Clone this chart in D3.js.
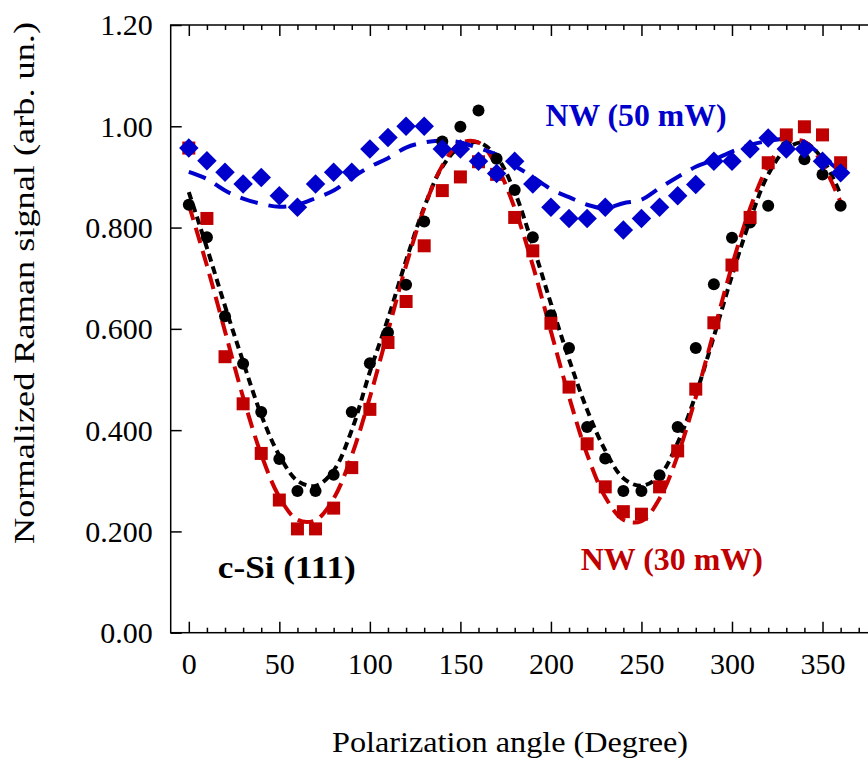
<!DOCTYPE html>
<html><head><meta charset="utf-8">
<script src="https://cdn.jsdelivr.net/npm/d3@7/dist/d3.min.js"></script>
<style>body{margin:0;background:#fff}svg{display:block}</style>
</head><body><svg id="c" width="868" height="761"></svg>
<script>
// ---- data ----
const angles = [0,10,20,30,40,50,60,70,80,90,100,110,120,130,140,150,160,170,180,190,200,210,220,230,240,250,260,270,280,290,300,310,320,330,340,350,360];
const cSi  = [0.845,0.781,0.625,0.531,0.436,0.343,0.280,0.280,0.312,0.436,0.532,0.593,0.687,0.812,0.970,0.999,1.031,0.936,0.874,0.781,0.627,0.562,0.406,0.344,0.280,0.280,0.311,0.406,0.562,0.688,0.780,0.810,0.843,0.960,0.935,0.905,0.843];
const nw30 = [0.957,0.818,0.545,0.452,0.354,0.262,0.205,0.205,0.246,0.326,0.441,0.573,0.654,0.764,0.873,0.900,0.930,0.905,0.820,0.754,0.611,0.485,0.373,0.288,0.239,0.234,0.288,0.359,0.481,0.612,0.726,0.820,0.928,0.983,0.999,0.983,0.928];
const nw50 = [0.957,0.932,0.909,0.886,0.899,0.863,0.840,0.886,0.909,0.909,0.955,0.978,1.000,1.000,0.955,0.955,0.931,0.907,0.931,0.886,0.840,0.818,0.818,0.840,0.795,0.818,0.840,0.863,0.885,0.931,0.931,0.955,0.977,0.955,0.955,0.931,0.908];
const fitCSi  = [0.870,0.760,0.645,0.535,0.430,0.350,0.300,0.290,0.320,0.400,0.515,0.620,0.735,0.840,0.920,0.960,0.968,0.940,0.870,0.765,0.650,0.540,0.440,0.360,0.305,0.290,0.310,0.375,0.470,0.585,0.705,0.815,0.905,0.955,0.968,0.935,0.865];
const fitNW30 = [0.845,0.725,0.595,0.465,0.352,0.268,0.223,0.222,0.265,0.350,0.465,0.595,0.725,0.838,0.922,0.967,0.968,0.922,0.838,0.725,0.595,0.466,0.352,0.268,0.223,0.220,0.265,0.350,0.465,0.595,0.725,0.838,0.922,0.967,0.970,0.925,0.850];
const fitNW50 = [0.910,0.896,0.873,0.857,0.847,0.841,0.845,0.858,0.873,0.898,0.920,0.937,0.958,0.968,0.972,0.968,0.957,0.944,0.922,0.900,0.876,0.860,0.845,0.838,0.848,0.855,0.878,0.900,0.920,0.934,0.950,0.963,0.971,0.975,0.968,0.940,0.910];
const yTicks = [0, 0.2, 0.4, 0.6, 0.8, 1.0, 1.2];
const yTickLabels = ["0.00","0.200","0.400","0.600","0.800","1.00","1.20"];
const xTicks = [0,50,100,150,200,250,300,350];
const labels = [
  {text:"NW (50 mW)", color:"#0000cc", a:197, v:1.00, len:181},
  {text:"c-Si (111)", color:"#000000", a:16, v:0.109, len:138},
  {text:"NW (30 mW)", color:"#c00000", a:216.5, v:0.124, len:182}
];

// ---- layout ----
const svg = d3.select("#c");
const L = 170.7, T = 25, B = 632.7;
const x = d3.scaleLinear().domain([-10, 380]).range([L, L + 390*1.8106]);
const y = d3.scaleLinear().domain([0, 1.2]).range([B, T]);
const R = x(380);
const font = "'Liberation Serif','Times New Roman',Times,serif";

// frame
svg.append("rect").attr("x",L).attr("y",T).attr("width",R-L).attr("height",B-T)
  .attr("fill","none").attr("stroke","#000").attr("stroke-width",1.5);

// axes (ticks inward)
const xMinor = d3.range(0, 381, 10).filter(d=>d%50!==0);
const gb = svg.append("g").attr("transform",`translate(0,${B})`)
  .call(d3.axisBottom(x).tickValues(xTicks).tickSize(-11).tickFormat(d3.format("d")).tickPadding(20));
const gbm = svg.append("g").attr("transform",`translate(0,${B})`)
  .call(d3.axisBottom(x).tickValues(xMinor).tickSize(-5).tickFormat(""));
const gt = svg.append("g").attr("transform",`translate(0,${T})`)
  .call(d3.axisTop(x).tickValues(xTicks).tickSize(-11).tickFormat(""));
const gtm = svg.append("g").attr("transform",`translate(0,${T})`)
  .call(d3.axisTop(x).tickValues(xMinor).tickSize(-5).tickFormat(""));
const gl = svg.append("g").attr("transform",`translate(${L},0)`)
  .call(d3.axisLeft(y).tickValues(yTicks).tickSize(-11).tickPadding(18)
    .tickFormat((d,i)=>yTickLabels[i]));
[gb,gbm,gt,gtm,gl].forEach(s=>{
  s.select(".domain").remove();
  s.selectAll(".tick line").attr("stroke","#000").attr("stroke-width",1.5);
  s.selectAll("text").attr("font-family",font).attr("font-size",30).attr("fill","#000");
});
gl.selectAll("text").attr("dy","0.33em");
gb.selectAll("text").attr("dy","0.71em");

// axis titles
svg.append("text").attr("x",510).attr("y",752).attr("text-anchor","middle")
  .attr("font-family",font).attr("font-size",30)
  .attr("textLength",356).attr("lengthAdjust","spacingAndGlyphs").text("Polarization angle (Degree)");
svg.append("text").attr("transform","translate(34,283) rotate(-90)").attr("text-anchor","middle")
  .attr("font-family",font).attr("font-size",30)
  .attr("textLength",522).attr("lengthAdjust","spacingAndGlyphs").text("Normalized Raman signal (arb. un.)");

// fit curves
const line = vals => d3.line().x((d,i)=>x(angles[i])).y(d=>y(d)).curve(d3.curveCatmullRom.alpha(0.5))(vals);
svg.append("path").attr("d",line(fitCSi)).attr("fill","none").attr("stroke","#000")
  .attr("stroke-width",4).attr("stroke-dasharray","8,5");
svg.append("path").attr("d",line(fitNW30)).attr("fill","none").attr("stroke","#cc0000")
  .attr("stroke-width",4).attr("stroke-dasharray","16,8");
svg.append("path").attr("d",line(fitNW50)).attr("fill","none").attr("stroke","#0000cc")
  .attr("stroke-width",4).attr("stroke-dasharray","18,11");

// markers
svg.append("g").selectAll("circle").data(cSi).join("circle")
  .attr("cx",(d,i)=>x(angles[i])).attr("cy",d=>y(d)).attr("r",6).attr("fill","#000");
svg.append("g").selectAll("rect").data(nw30).join("rect")
  .attr("x",(d,i)=>x(angles[i])-6.5).attr("y",d=>y(d)-6.5).attr("width",13).attr("height",13).attr("fill","#c00000");
const dia = d3.symbol().type(d3.symbolSquare).size(190);
svg.append("g").selectAll("path").data(nw50).join("path")
  .attr("d",dia).attr("transform",(d,i)=>`translate(${x(angles[i])},${y(d)}) rotate(45)`).attr("fill","#0000cc");

// labels
svg.append("g").selectAll("text").data(labels).join("text")
  .attr("x",d=>x(d.a)).attr("y",d=>y(d.v)).attr("font-family",font).attr("font-weight","bold")
  .attr("font-size",31).attr("fill",d=>d.color)
  .attr("textLength",d=>d.len).attr("lengthAdjust","spacingAndGlyphs").text(d=>d.text);
</script></body></html>
